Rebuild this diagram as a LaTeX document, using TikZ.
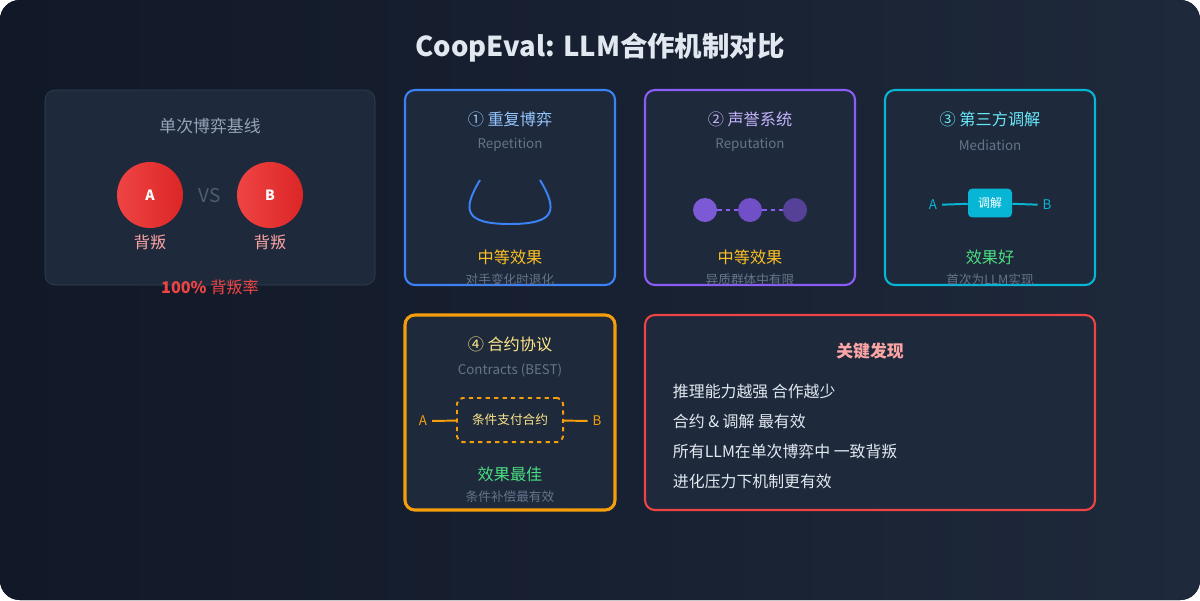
\documentclass[tikz,border=0pt]{standalone}
\usepackage{fontspec}
\setmainfont{Noto Sans CJK SC}
\usetikzlibrary{positioning}
\definecolor{bgA}{HTML}{111827}
\definecolor{bgB}{HTML}{1E293B}
\definecolor{card}{HTML}{1E293B}
\definecolor{cardline}{HTML}{334155}
\definecolor{muted}{HTML}{64748B}
\definecolor{soft}{HTML}{94A3B8}
\definecolor{redA}{HTML}{EF4444}
\definecolor{redB}{HTML}{DC2626}
\definecolor{pinkish}{HTML}{FCA5A5}
\definecolor{blueL}{HTML}{3B82F6}
\definecolor{blueT}{HTML}{93C5FD}
\definecolor{purpL}{HTML}{8B5CF6}
\definecolor{purpT}{HTML}{C4B5FD}
\definecolor{purpA}{HTML}{7C5AD6}
\definecolor{cyanL}{HTML}{06B6D4}
\definecolor{cyanT}{HTML}{67E8F9}
\definecolor{amberL}{HTML}{F59E0B}
\definecolor{amberT}{HTML}{FDE68A}
\definecolor{gold}{HTML}{FBBF24}
\definecolor{greenT}{HTML}{4ADE80}
\definecolor{light}{HTML}{E2E8F0}
\tikzset{
  % mechanism card
  mech/.style = {
    draw = #1,
    fill = card,
    line width = 1.5pt,
    rounded corners = 7pt
  },
  head/.style = {
    font = \fontsize{11.5}{13}\selectfont,
    text = #1
  },
  sub/.style = {
    font = \fontsize{9.5}{11}\selectfont,
    text = muted
  },
  note/.style = {
    font = \fontsize{9}{11}\selectfont,
    text = muted
  },
  effect/.style = {
    font = \fontsize{11.5}{13}\selectfont,
    text = #1
  },
  player/.style = {
    circle,
    minimum size = 1.65cm,
    left color = redA,
    right color = redB,
    text = white,
    font = \fontsize{10}{12}\selectfont\bfseries
  },
  % reputation dot
  rep/.style = {
    circle,
    fill = #1,
    minimum size = 0.6cm,
    inner sep = 0
  },
  finding/.style = {
    anchor = west,
    font = \fontsize{11.3}{13}\selectfont,
    text = light
  }
}
\begin{document}
\begin{tikzpicture}[x=0.025cm, y=-0.025cm]
  \useasboundingbox (0,0) rectangle (1200,600);
  \fill[left color=bgA, right color=bgB, rounded corners=14pt] (0,0) rectangle (1200,600);

  \node[font=\fontsize{19.5}{22}\selectfont\bfseries, text=light] (title) at (600,48) {CoopEval: LLM合作机制对比};

  % baseline
  \draw[draw=cardline, fill=card, rounded corners=7pt] (45,90) rectangle (375,285);
  \node[font=\fontsize{12}{14}\selectfont, text=soft] (base) at (210,126) {单次博弈基线};
  \node[player] (pa) at (150,195) {A};
  \node[player] (pb) at (270,195) {B};
  \node[font=\fontsize{13.5}{15}\selectfont, text=cardline!70!soft] (vs) at (210,196) {VS};
  \node[font=\fontsize{11.5}{13}\selectfont, text=pinkish] (da) at (150,242) {背叛};
  \node[font=\fontsize{11.5}{13}\selectfont, text=pinkish] (db) at (270,242) {背叛};
  \node[font=\fontsize{11.5}{13}\selectfont, text=redA] (rate) at (210,287) {\textbf{100\%} 背叛率};

  % repetition
  \draw[mech=blueL] (405,90) rectangle (615,285);
  \node[head=blueT] (h1) at (510,119) {① 重复博弈};
  \node[sub] (s1) at (510,145) {Repetition};
  \coordinate (u1) at (480,180);
  \coordinate (u2) at (540,180);
  \draw[blueL, line width=1.4pt] (u1) .. controls (462,210) and (464,224) .. (510,224)
    .. controls (556,224) and (558,210) .. (u2);
  \node[effect=gold] (e1) at (510,257) {中等效果};
  \node[note] (n1) at (510,280) {对手变化时退化};

  % reputation
  \draw[mech=purpL] (645,90) rectangle (855,285);
  \node[head=purpT] (h2) at (750,119) {② 声誉系统};
  \node[sub] (s2) at (750,145) {Reputation};
  \node[rep=purpA] (r1) at (705,210) {};
  \node[rep=purpL!75!card] (r2) at (750,210) {};
  \node[rep=purpL!50!card] (r3) at (795,210) {};
  \draw[purpL, line width=1.2pt, dashed] (r1) -- (r2);
  \draw[purpL, line width=1.2pt, dashed] (r2) -- (r3);
  \node[effect=gold] (e2) at (750,257) {中等效果};
  \node[note] (n2) at (750,280) {异质群体中有限};

  % mediation
  \draw[mech=cyanL] (885,90) rectangle (1095,285);
  \node[head=cyanT] (h3) at (990,119) {③ 第三方调解};
  \node[sub] (s3) at (990,145) {Mediation};
  \node[fill=cyanL, rounded corners=3pt, minimum width=1.1cm, minimum height=0.72cm,
    text=white, font=\fontsize{8.5}{10}\selectfont] (med) at (990,203) {调解};
  \node[text=cyanL, font=\fontsize{9.5}{11}\selectfont] (ma) at (933,205) {A};
  \node[text=cyanL, font=\fontsize{9.5}{11}\selectfont] (mb) at (1047,205) {B};
  \draw[cyanL, line width=1.4pt] (ma) -- (med) -- (mb);
  \node[effect=greenT] (e3) at (990,257) {效果好};
  \node[note] (n3) at (990,280) {首次为LLM实现};

  % contracts
  \draw[mech=amberL, line width=2.2pt] (405,315) rectangle (615,510);
  \node[head=amberT] (h4) at (510,344) {④ 合约协议};
  \node[sub] (s4) at (510,370) {Contracts (BEST)};
  \node[draw=amberL, dashed, line width=1.4pt, rounded corners=4pt, minimum width=2.65cm,
    minimum height=1.1cm, text=amberT, font=\fontsize{9}{11}\selectfont] (con) at (510,420) {条件支付合约};
  \node[text=amberL, font=\fontsize{9.5}{11}\selectfont] (ca) at (423,421) {A};
  \node[text=amberL, font=\fontsize{9.5}{11}\selectfont] (cb) at (597,421) {B};
  \draw[amberL, line width=1.4pt] (ca) -- (con) -- (cb);
  \node[effect=greenT] (e4) at (510,474) {效果最佳};
  \node[note] (n4) at (510,497) {条件补偿最有效};

  % findings
  \draw[mech=redA] (645,315) rectangle (1095,510);
  \node[font=\fontsize{12}{14}\selectfont\bfseries, text=pinkish] (kh) at (870,351) {关键发现};
  \node[finding] (k1) at (668,391) {推理能力越强 合作越少};
  \node[finding] (k2) at (668,421) {合约 \& 调解 最有效};
  \node[finding] (k3) at (668,451) {所有LLM在单次博弈中 一致背叛};
  \node[finding] (k4) at (668,481) {进化压力下机制更有效};
\end{tikzpicture}
\end{document}
